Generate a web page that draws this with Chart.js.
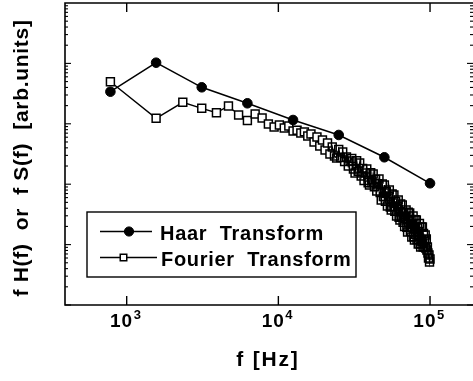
<!DOCTYPE html>
<html>
<head>
<meta charset="utf-8">
<script src="https://cdn.jsdelivr.net/npm/chart.js@4.4.1/dist/chart.umd.min.js"></script>
<style>
  html, body { margin: 0; padding: 0; background: #fff; overflow: hidden; }
  canvas { display: block; }
</style>
</head>
<body>
<canvas id="chart" width="473" height="381"></canvas>
<script>
// ---- data ----
// Haar: one point per octave
const haarFreq = [781, 1563, 3125, 6250, 12500, 25000, 50000, 100000];
const haarValues = [3400, 10270, 4020, 2185, 1156, 653, 279, 103.5];

// Fourier: 128 bins, 781.25 Hz apart
const fourierFreq = [
  781, 1563, 2344, 3125, 3906, 4688, 5469, 6250, 7031, 7813,
  8594, 9375, 10156, 10938, 11719, 12500, 13281, 14063, 14844, 15625,
  16406, 17188, 17969, 18750, 19531, 20313, 21094, 21875, 22656, 23438,
  24219, 25000, 25781, 26563, 27344, 28125, 28906, 29688, 30469, 31250,
  32031, 32813, 33594, 34375, 35156, 35938, 36719, 37500, 38281, 39063,
  39844, 40625, 41406, 42188, 42969, 43750, 44531, 45313, 46094, 46875,
  47656, 48438, 49219, 50000, 50781, 51563, 52344, 53125, 53906, 54688,
  55469, 56250, 57031, 57813, 58594, 59375, 60156, 60938, 61719, 62500,
  63281, 64063, 64844, 65625, 66406, 67188, 67969, 68750, 69531, 70313,
  71094, 71875, 72656, 73438, 74219, 75000, 75781, 76563, 77344, 78125,
  78906, 79688, 80469, 81250, 82031, 82813, 83594, 84375, 85156, 85938,
  86719, 87500, 88281, 89063, 89844, 90625, 91406, 92188, 92969, 93750,
  94531, 95313, 96094, 96875, 97656, 98438, 99219, 100000
];
const fourierValues = [
  4980, 1234, 2270, 1806, 1527, 1972, 1399, 1134, 1453, 1248,
  992, 885, 955, 852, 919, 760, 780, 704, 735, 628,
  678, 500, 605, 429, 539, 368, 481, 316, 413, 293,
  272, 376, 277, 341, 238, 282, 200, 242, 267, 179,
  153, 245, 164, 224, 137, 182, 115, 153, 179, 106,
  97.0, 155, 106, 148, 90.2, 120, 77.2, 102, 122, 72.6,
  54.8, 101, 62.4, 97.0, 52.2, 75.7, 43.6, 63.3, 80.2, 41.7,
  37.4, 69.2, 42.6, 66.3, 35.6, 51.8, 29.7, 43.3, 54.8, 28.4,
  25.6, 47.3, 29.1, 45.3, 23.4, 34.0, 19.9, 29.5, 37.4, 19.4,
  16.2, 34.5, 19.6, 33.4, 16.4, 26.0, 13.4, 21.7, 29.7, 13.5,
  11.9, 25.9, 14.8, 25.6, 12.1, 19.6, 10.2, 16.3, 22.4, 10.3,
  9.13, 19.5, 11.1, 19.6, 9.23, 15.3, 9.13, 11.9, 14.4, 8.79,
  12.4, 8.14, 9.13, 7.26, 6.0, 6.73, 5.15, 5.78
];

const seriesNames = ['Haar  Transform', 'Fourier  Transform'];
const xTicks = [1e3, 1e4, 1e5];
const xTickExp = ['3', '4', '5'];
const yDecades = [1, 10, 100, 1000, 10000];

const FONT = '"Liberation Sans", Arial, Helvetica, sans-serif';
const RIGHT_EDGE = 474; // frame's right side sits just past the canvas edge

function toPoints(xs, ys) {
  return xs.map((f, i) => ({ x: f, y: ys[i] }));
}

function seg(ctx, x1, y1, x2, y2) {
  ctx.beginPath();
  ctx.moveTo(x1, y1);
  ctx.lineTo(x2, y2);
  ctx.stroke();
}

// frame, inward ticks, labels and the boxed legend
const framePlugin = {
  id: 'frame',
  afterDraw(chart) {
    const { ctx, chartArea: a, scales: { x, y } } = chart;
    ctx.save();
    ctx.strokeStyle = '#000';
    ctx.fillStyle = '#000';
    ctx.lineWidth = 1.6;
    ctx.beginPath();
    ctx.moveTo(RIGHT_EDGE, a.top);
    ctx.lineTo(a.left, a.top);
    ctx.lineTo(a.left, a.bottom);
    ctx.lineTo(RIGHT_EDGE, a.bottom);
    ctx.stroke();

    // x: decades only, top and bottom
    ctx.lineWidth = 1.4;
    xTicks.forEach(v => {
      const px = x.getPixelForValue(v);
      seg(ctx, px, a.bottom, px, a.bottom - 9);
      seg(ctx, px, a.top, px, a.top + 9);
    });

    // y: decades + minor ticks, both sides
    ctx.lineWidth = 1.1;
    yDecades.forEach(d => {
      for (let m = 1; m <= 9; m++) {
        const py = y.getPixelForValue(d * m);
        seg(ctx, a.left, py, a.left + (m === 1 ? 6 : 3), py);
        seg(ctx, RIGHT_EDGE, py, RIGHT_EDGE - (m === 1 ? 7 : 4), py);
      }
    });

    // x tick labels: 10 with raised exponent
    ctx.letterSpacing = '1px';
    ctx.textBaseline = 'alphabetic';
    ctx.textAlign = 'left';
    xTicks.forEach((v, i) => {
      const px = x.getPixelForValue(v);
      ctx.font = 'bold 19px ' + FONT;
      const wBase = ctx.measureText('10').width;
      ctx.font = 'bold 13px ' + FONT;
      const wExp = ctx.measureText(xTickExp[i]).width;
      const x0 = px - (wBase + wExp) / 2 - 1;
      ctx.font = 'bold 19px ' + FONT;
      ctx.fillText('10', x0, a.bottom + 22);
      ctx.font = 'bold 13px ' + FONT;
      ctx.fillText(xTickExp[i], x0 + wBase + 0.5, a.bottom + 14);
    });

    // axis titles
    ctx.letterSpacing = '1.8px';
    ctx.font = 'bold 21px ' + FONT;
    ctx.textAlign = 'center';
    ctx.fillText('f [Hz]', 268, 366);

    ctx.save();
    ctx.letterSpacing = '0.7px';
    ctx.translate(28, 158);
    ctx.rotate(-Math.PI / 2);
    ctx.fillText('f H(f)  or  f S(f)  [arb.units]', 0, 0);
    ctx.restore();

    // legend
    const box = { l: 87, t: 212, r: 356, b: 277 };
    ctx.lineWidth = 1.4;
    ctx.strokeRect(box.l, box.t, box.r - box.l, box.b - box.t);
    const rows = [
      { y: 231.5, l1: 100, l2: 152, mx: 129, tx: 160, base: 240 },
      { y: 257.5, l1: 100, l2: 157, mx: 123.5, tx: 161, base: 265.5 }
    ];
    rows.forEach((r, i) => {
      const ds = chart.data.datasets[i];
      ctx.strokeStyle = '#000';
      ctx.lineWidth = ds.borderWidth;
      seg(ctx, r.l1, r.y, r.l2, r.y);
      ctx.fillStyle = i === 0 ? '#000' : '#fff';
      ctx.lineWidth = ds.pointBorderWidth;
      Chart.helpers.drawPoint(ctx, {
        pointStyle: ds.pointStyle,
        radius: 4.6,
        borderWidth: ds.pointBorderWidth
      }, r.mx, r.y);
      ctx.fillStyle = '#000';
      ctx.letterSpacing = '0.7px';
      ctx.font = 'bold 20px ' + FONT;
      ctx.textAlign = 'left';
      ctx.fillText(ds.label, r.tx, r.base);
    });
    ctx.restore();
  }
};

new Chart(document.getElementById('chart'), {
  type: 'line',
  data: {
    datasets: [
      {
        label: seriesNames[0],
        data: toPoints(haarFreq, haarValues),
        borderColor: '#000',
        borderWidth: 1.5,
        pointStyle: 'circle',
        pointRadius: 4.8,
        pointBackgroundColor: '#000',
        pointBorderColor: '#000',
        pointBorderWidth: 1
      },
      {
        label: seriesNames[1],
        data: toPoints(fourierFreq, fourierValues),
        borderColor: '#000',
        borderWidth: 1.4,
        pointStyle: 'rect',
        pointRadius: 5.6,
        // open squares; where they pile up at high f the outlines merge into a dark band
        pointBackgroundColor: ctx => (ctx.raw && ctx.raw.x > 22000 ? 'rgba(255,255,255,0)' : '#fff'),
        pointBorderColor: '#000',
        pointBorderWidth: 1.5
      }
    ]
  },
  options: {
    responsive: false,
    devicePixelRatio: 1,
    animation: false,
    layout: { autoPadding: false, padding: { left: 65, top: 3, right: 0, bottom: 76 } },
    elements: { line: { tension: 0 } },
    plugins: { legend: { display: false }, tooltip: { enabled: false } },
    scales: {
      x: { type: 'logarithmic', min: 392, max: 192000, display: false },
      y: { type: 'logarithmic', min: 1, max: 100000, display: false }
    }
  },
  plugins: [framePlugin]
});
</script>
</body>
</html>
